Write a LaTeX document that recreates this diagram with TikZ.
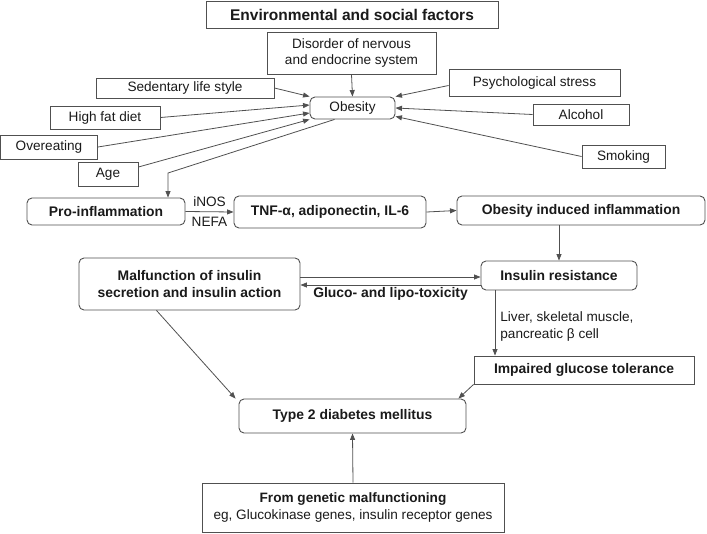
\documentclass[tikz,border=0pt]{standalone}
\usepackage{fontspec}
\setmainfont{Liberation Sans}
\usetikzlibrary{arrows.meta}
\definecolor{ln}{HTML}{505050}
\definecolor{tx}{HTML}{1A1A1A}
\begin{document}
\begin{tikzpicture}[x=1pt,y=-1pt,
  box/.style={draw=ln, line width=0.9pt, text=tx, inner sep=0pt, align=center, font=\fontsize{13.6}{16.5}\selectfont},
  rbox/.style={box, rounded corners=5pt},
  bld/.style={font=\fontsize{13.9}{16.5}\selectfont\bfseries},
  arr/.style={draw=ln, line width=0.8pt, -{Triangle[length=6.5pt,width=5pt]}},
  lbl/.style={text=tx, font=\fontsize{13.6}{16.5}\selectfont, inner sep=1pt}
]
\useasboundingbox (0,0) rectangle (707,533);

% top factors
\node[box, minimum width=292pt, minimum height=27pt, font=\fontsize{15.5}{18}\selectfont\bfseries] (env) at (352,14.5) {Environmental and social factors};
\node[box, minimum width=169pt, minimum height=42pt] (dis) at (351.5,53) {Disorder of nervous\\and endocrine system};
\node[rbox, minimum width=85pt, minimum height=22pt] (obe) at (352.5,108) {Obesity};
\node[box, minimum width=178pt, minimum height=20pt] (sed) at (185,88) {Sedentary life style};
\node[box, minimum width=171pt, minimum height=27pt] (psy) at (534.5,82.5) {Psychological stress};
\node[box, minimum width=110pt, minimum height=23pt] (hfd) at (105,117.5) {High fat diet};
\node[box, minimum width=96pt, minimum height=21pt] (alc) at (581,114.5) {Alcohol};
\node[box, minimum width=97pt, minimum height=24pt] (ove) at (49,147) {Overeating};
\node[box, minimum width=83pt, minimum height=23pt] (smo) at (623.5,156.5) {Smoking};
\node[box, minimum width=60pt, minimum height=24pt] (age) at (108,174) {Age};

% inflammation chain
\node[rbox, bld, minimum width=158pt, minimum height=27pt] (pro) at (106,211.5) {Pro-inflammation};
\node[rbox, bld, minimum width=192pt, minimum height=32pt] (tnf) at (330,212) {TNF-α, adiponectin, IL-6};
\node[rbox, bld, minimum width=248pt, minimum height=29pt] (oii) at (581,210.5) {Obesity induced inflammation};
\node[rbox, bld, minimum width=156pt, minimum height=29pt] (ir) at (559,275.5) {Insulin resistance};
\node[rbox, bld, minimum width=221pt, minimum height=52pt] (mal) at (189.5,284) {Malfunction of insulin\\secretion and insulin action};
\node[box, bld, minimum width=220pt, minimum height=28pt] (igt) at (584,370) {Impaired glucose tolerance};
\node[rbox, bld, minimum width=227pt, minimum height=34pt] (t2) at (352.5,416) {Type 2 diabetes mellitus};
\node[box, minimum width=302pt, minimum height=49pt] (gen) at (353,507.5) {\textbf{From genetic malfunctioning}\\eg, Glucokinase genes, insulin receptor genes};

% arrows into obesity
\draw[arr] (dis.south) -- (obe.north);
\draw[arr] (sed.east) -- (obe.north west);
\draw[arr] (hfd.east) -- ([yshift=3pt]obe.west);
\draw[arr] (ove.east) -- ([yshift=-5pt]obe.west);
\draw[arr] ([yshift=7pt]age.east) -- (obe.south west);
\draw[arr] ([yshift=-3pt]psy.west) -- (obe.north east);
\draw[arr] (alc.west) -- (obe.east);
\draw[arr] (smo.west) -- ([yshift=3pt]obe.south east);

% obesity to pro-inflammation
\coordinate (bend) at (168,173);
\draw[arr] ([xshift=-18pt]obe.south) -- (bend) -- (bend |- pro.north);

% chain
\draw[arr] (pro.east) -- node[lbl, above, inner sep=5pt] {iNOS} node[lbl, below, inner sep=5pt] {NEFA} (tnf.west);
\draw[arr] (tnf.east) -- (oii.west);
\draw[arr] (ir.north |- oii.south) -- (ir.north);
\draw[arr] ([yshift=7pt]mal.east) -- ([yshift=7pt]mal.east -| ir.west);
\draw[arr] ([yshift=-1pt]mal.east -| ir.west) -- node[below, inner sep=2pt, text=tx, bld] {Gluco- and lipo-toxicity} ([yshift=-1pt]mal.east);
\draw[arr] ([xshift=-64pt]ir.south) -- node[lbl, right=4pt, pos=0.55, align=left] {Liver, skeletal muscle,\\pancreatic β cell} ([xshift=-64pt]ir.south |- igt.north);
\draw[arr] (igt.south west) -- ([xshift=-8pt]t2.north east);
\draw[arr] ([xshift=-33pt]mal.south) -- ([xshift=-3pt]t2.north west);
\draw[arr] (gen.north) -- (t2.south);
\end{tikzpicture}
\end{document}
